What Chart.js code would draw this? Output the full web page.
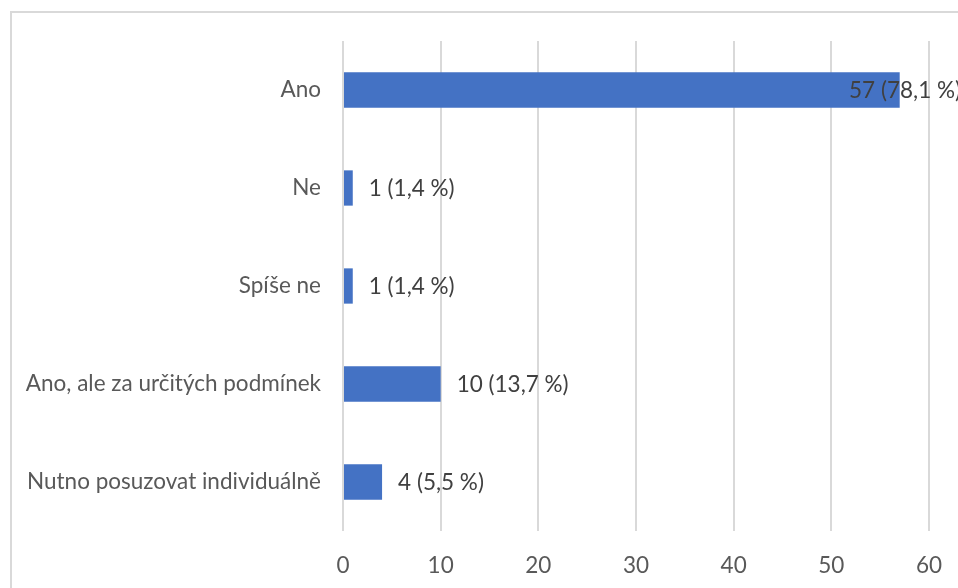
<!DOCTYPE html>
<html>
<head>
<meta charset="utf-8">
<script src="https://cdn.jsdelivr.net/npm/chart.js@4/dist/chart.umd.min.js"></script>
<style>
  html, body { margin: 0; padding: 0; background: #fff; }
  #wrap { width: 958px; height: 588px; position: relative; }
</style>
</head>
<body>
<div id="wrap"><canvas id="myChart" width="958" height="588"></canvas></div>
<script>
'use strict';

let categories = ["Ano", "Ne", "Spíše ne", "Ano, ale za určitých podmínek", "Nutno posuzovat individuálně"];
let counts = [57, 1, 1, 10, 4];
let percents = ["78,1", "1,4", "1,4", "13,7", "5,5"];
let xTicks = [0, 10, 20, 30, 40, 50, 60];

let fontName = "Lato, 'Open Sans', sans-serif";

// frame around the chart, runs off the right and bottom edges
let framePlugin = {
    id: 'frame',
    beforeDraw(chart) {
        let ctx = chart.ctx;
        ctx.save();
        ctx.strokeStyle = '#d9d9d9';
        ctx.lineWidth = 2;
        ctx.strokeRect(11, 12, 1000, 1000);
        ctx.restore();
    }
};

// labels like "57 (78,1 %)" next to bar ends
let labelPlugin = {
    id: 'barLabels',
    afterDatasetsDraw(chart) {
        let ctx = chart.ctx;
        let meta = chart.getDatasetMeta(0);
        ctx.save();
        ctx.font = "22.5px " + fontName;
        ctx.fillStyle = '#404040';
        ctx.textBaseline = 'middle';
        meta.data.forEach(function (bar, i) {
            let text = counts[i] + " (" + percents[i] + " %)";
            let w = ctx.measureText(text).width;
            let x = bar.x + 16;
            if (x + w > chart.width + 3) {
                x = chart.width + 3 - w;
            }
            ctx.fillText(text, x, bar.y + 1);
        });
        ctx.restore();
    }
};

let ctx = document.getElementById('myChart').getContext('2d');
let chart = new Chart(ctx, {
    type: 'bar',
    data: {
        labels: categories,
        datasets: [{
            data: counts,
            backgroundColor: '#4472c4',
            borderWidth: 0,
            categoryPercentage: 1,
            barPercentage: 0.36
        }]
    },
    options: {
        indexAxis: 'y',
        responsive: false,
        animation: false,
        layout: { padding: { left: 0, right: 29, top: 41, bottom: 0 } },
        plugins: {
            legend: { display: false },
            tooltip: { enabled: false }
        },
        scales: {
            x: {
                min: 0,
                max: 60,
                afterBuildTicks(axis) {
                    axis.ticks = xTicks.map(v => ({ value: v }));
                },
                afterFit(axis) {
                    axis.height = 57;
                    axis.paddingLeft = 0;
                    axis.paddingRight = 0;
                },
                grid: { color: '#d9d9d9', lineWidth: 2, drawTicks: false },
                border: { display: false },
                ticks: {
                    color: '#595959',
                    padding: 21,
                    font: { family: fontName, size: 22.5 }
                }
            },
            y: {
                afterFit(axis) { axis.width = 343; },
                grid: { display: false, drawTicks: false },
                border: { display: false },
                ticks: {
                    color: '#595959',
                    padding: 22,
                    font: { family: fontName, size: 22.5 }
                }
            }
        }
    },
    plugins: [framePlugin, labelPlugin]
});
</script>
</body>
</html>
